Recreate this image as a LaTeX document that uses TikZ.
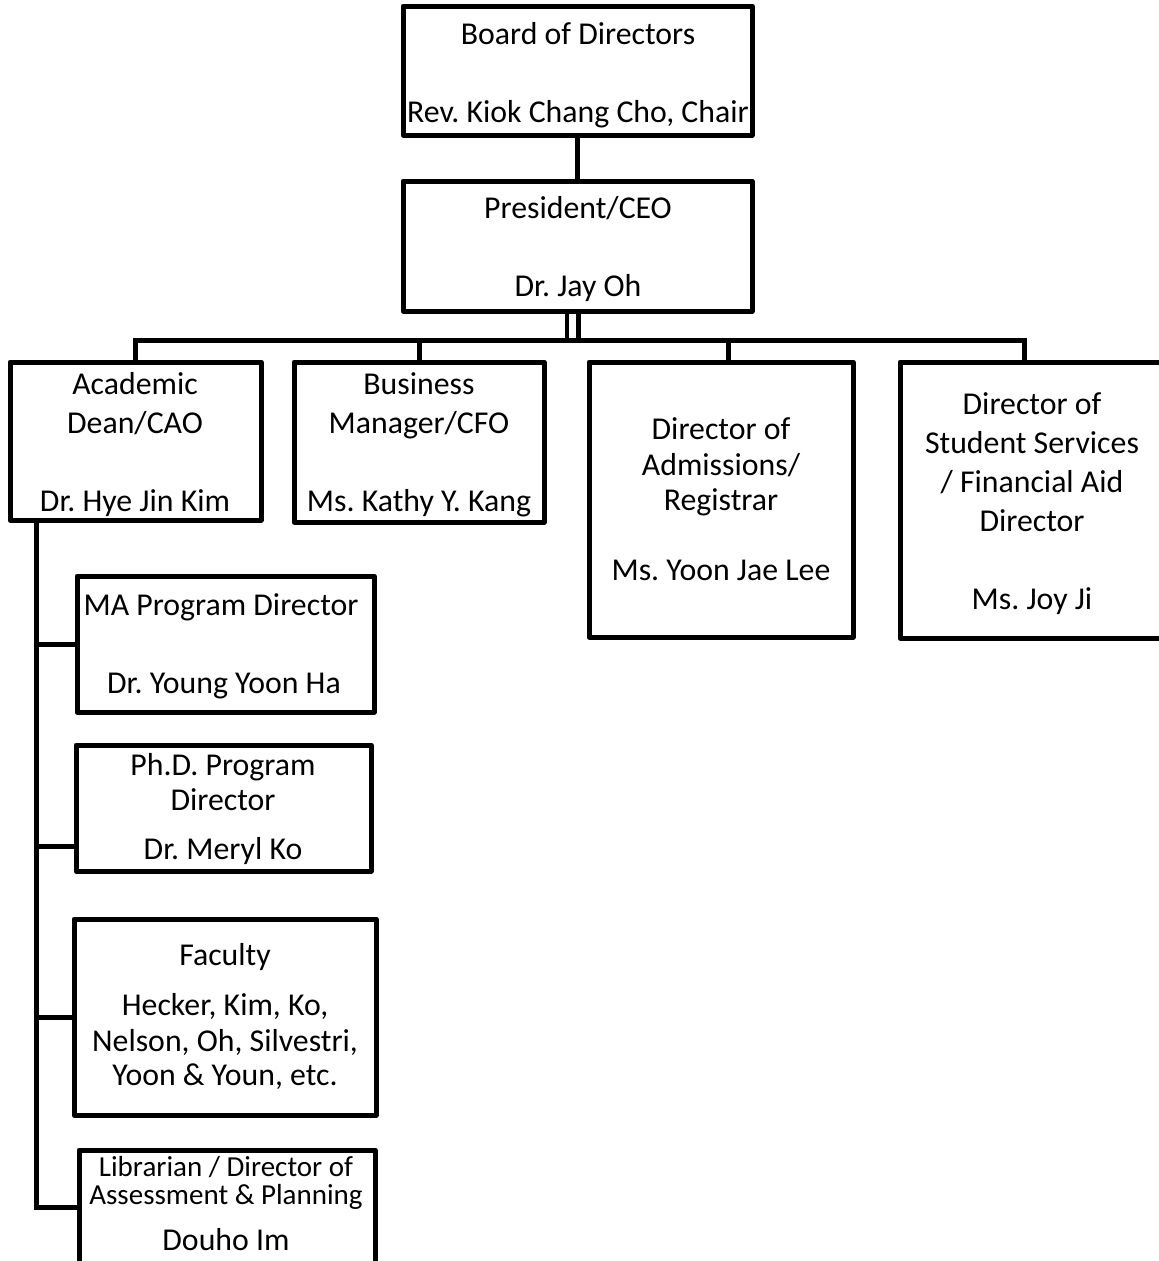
\documentclass[tikz,border=0pt]{standalone}
\usepackage{fontspec}
\setmainfont{Carlito}
\frenchspacing
\newcommand\orgbox[5]{\node[box, minimum width={#4-#2}, minimum height={#5-#3}] (#1) at ({(#2+#4)/2},{(#3+#5)/2}) {};}
\begin{document}
\begin{tikzpicture}[x=1pt,y=-1pt,
  box/.style={draw, line width=5pt, line join=round, inner sep=0pt, outer sep=0pt},
  txt/.style={anchor=base, inner sep=0pt, font=\fontsize{31.8}{37}\selectfont},
  smalltxt/.style={anchor=base, inner sep=0pt, font=\fontsize{29}{34}\selectfont},
  link/.style={line width=5pt},
  thinlink/.style={line width=4pt}]
\useasboundingbox (0,0) rectangle (1159,1261);
\fill[white] (0,0) rectangle (1159,1261);
\clip (0,0) rectangle (1159,1261);

% boxes
\orgbox{board}{403}{6}{752}{135}
\orgbox{pres}{403}{181}{752}{311}
\orgbox{acad}{10}{362}{261}{520}
\orgbox{bus}{294}{362}{544}{522}
\orgbox{adm}{589}{362}{853}{637}
\orgbox{ss}{900}{362}{1166}{638}
\orgbox{ma}{77}{576}{374}{712}
\orgbox{phd}{76}{745}{371}{871}
\orgbox{fac}{74}{919}{376}{1115}
\orgbox{lib}{79}{1150}{375}{1280}

% texts
\node[txt] (t1a) at (578,44) {Board of Directors};
\node[txt] (t1b) at (578,122) {Rev. Kiok Chang Cho, Chair};
\node[txt] (t2a) at (578,218) {President/CEO};
\node[txt] (t2b) at (578,296) {Dr. Jay Oh};
\node[txt] (t3a) at (135,394) {Academic};
\node[txt] (t3b) at (135,433) {Dean/CAO};
\node[txt] (t3c) at (135,511) {Dr. Hye Jin Kim};
\node[txt] (t4a) at (419,394) {Business};
\node[txt] (t4b) at (419,433) {Manager/CFO};
\node[txt] (t4c) at (419,511) {Ms. Kathy Y. Kang};
\node[txt] (t5a) at (721,439) {Director of};
\node[txt] (t5b) at (721,475) {Admissions/};
\node[txt] (t5c) at (721,510) {Registrar};
\node[txt] (t5d) at (721,580) {Ms. Yoon Jae Lee};
\node[txt] (t6a) at (1032,414) {Director of};
\node[txt] (t6b) at (1032,453) {Student Services};
\node[txt] (t6c) at (1032,492) {/ Financial Aid};
\node[txt] (t6d) at (1032,531) {Director};
\node[txt] (t6e) at (1032,609) {Ms. Joy Ji};
\node[txt] (t7a) at (221,615) {MA Program Director};
\node[txt] (t7b) at (224,693) {Dr. Young Yoon Ha};
\node[txt] (t8a) at (223,775) {Ph.D. Program};
\node[txt] (t8b) at (223,810) {Director};
\node[txt] (t8c) at (223,859) {Dr. Meryl Ko};
\node[txt] (t9a) at (225,965) {Faculty};
\node[txt] (t9b) at (225,1015) {Hecker, Kim, Ko,};
\node[txt] (t9c) at (225,1051) {Nelson, Oh, Silvestri,};
\node[txt] (t9d) at (225,1085) {Yoon \& Youn, etc.};
\node[smalltxt] (t10a) at (226,1176) {Librarian / Director of};
\node[smalltxt] (t10b) at (226,1204) {Assessment \& Planning};
\node[txt] (t10c) at (226,1250) {Douho Im};

% connectors
\draw[link] (board.south) -- (pres.north);
\coordinate (hub) at (578,340);
\coordinate (spine) at (36,0);
\draw[link] ([xshift=0.5pt]pres.south) -- ([xshift=0.5pt]pres.south |- hub);
\draw[thinlink] ([xshift=-10.5pt]pres.south) -- ([xshift=-10.5pt]pres.south |- hub);
\draw[link] (acad.north) |- ([xshift=-9pt]ss.north |- hub) -- ([xshift=-9pt]ss.north);
\draw[link] (bus.north) -- (bus.north |- hub);
\draw[link] ([xshift=7pt]adm.north) -- ([xshift=7pt]adm.north |- hub);
\draw[link] (acad.south -| spine) |- ([yshift=8pt]lib.west);
\draw[link] (spine |- ma.west) -- (ma.west);
\draw[link] (spine |- 0,846) coordinate (b2) -- (b2 -| phd.west);
\draw[link] (spine |- 0,1017) coordinate (b3) -- (b3 -| fac.west);
\end{tikzpicture}
\end{document}
